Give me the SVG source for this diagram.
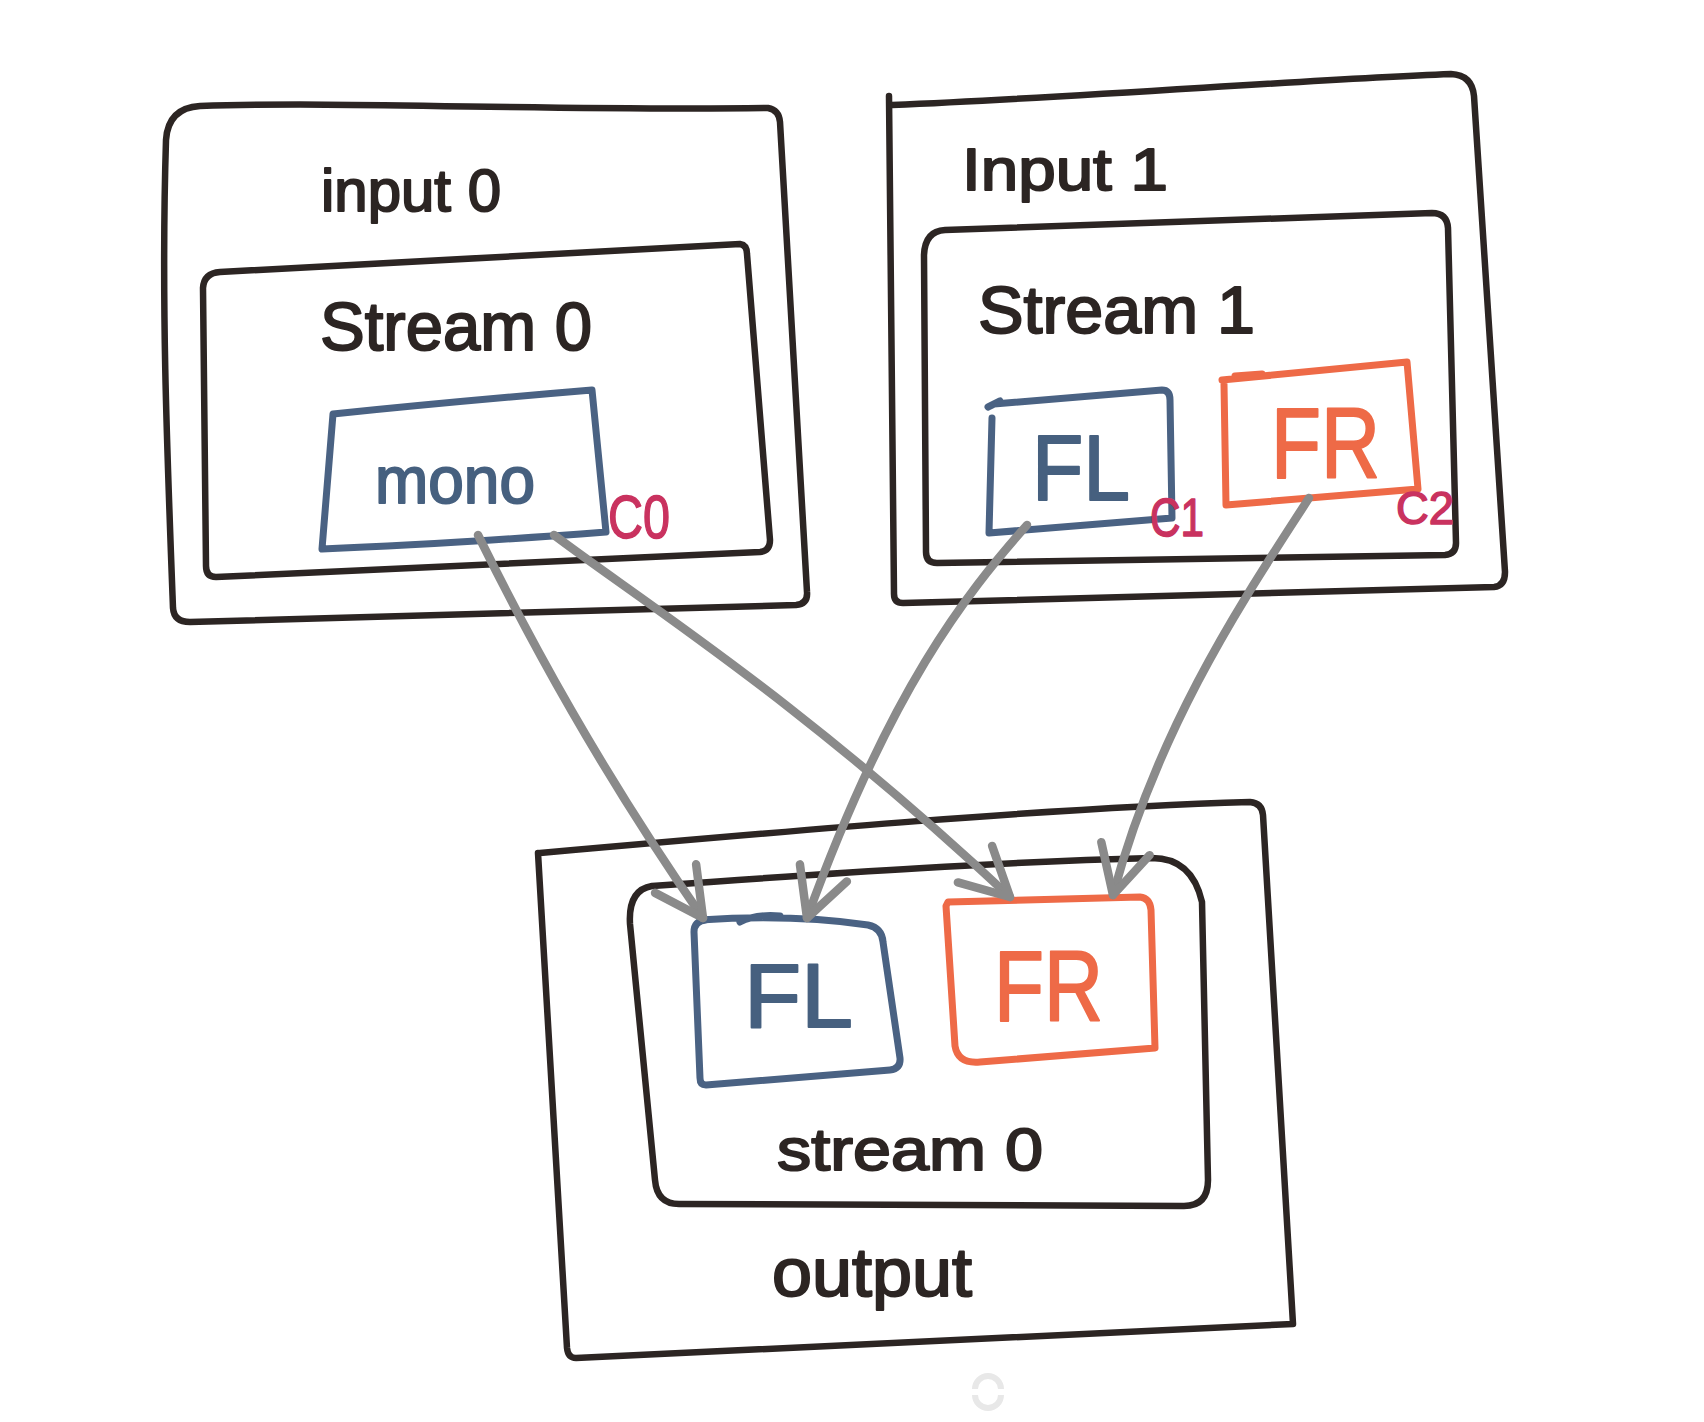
<svg xmlns="http://www.w3.org/2000/svg" width="1704" height="1422" viewBox="0 0 1704 1422">
  <style>
    .frame { fill: none; stroke: #2c2523; stroke-width: 6.5; stroke-linecap: round; stroke-linejoin: round; }
    .blue { fill: none; stroke: #4a6283; stroke-width: 7; stroke-linecap: round; stroke-linejoin: round; }
    .orange { fill: none; stroke: #ee6a47; stroke-width: 7; stroke-linecap: round; stroke-linejoin: round; }
    .conn { fill: none; stroke: #8a8a8a; stroke-width: 8.5; stroke-linecap: round; marker-end: url(#ah); }
    .t { font-family: "Liberation Sans", Arial, sans-serif; fill: #2c2523; stroke: #2c2523; stroke-width: 2; stroke-linejoin: round; }
    .tb { font-family: "Liberation Sans", Arial, sans-serif; fill: #46607f; stroke: #46607f; stroke-width: 2; stroke-linejoin: round; }
    .to { font-family: "Liberation Sans", Arial, sans-serif; fill: #ee6a47; stroke: #ee6a47; stroke-width: 2; stroke-linejoin: round; }
    .tp { font-family: "Liberation Sans", Arial, sans-serif; fill: #c9325f; stroke: #c9325f; stroke-width: 1.5; stroke-linejoin: round; }
  </style>
  <defs>
    <marker id="ah" viewBox="-60 -40 80 80" markerWidth="80" markerHeight="80" refX="0" refY="0" orient="auto" markerUnits="userSpaceOnUse">
      <path d="M -48,-25 L 0,0 L -48,25" fill="none" stroke="#8a8a8a" stroke-width="8.5" stroke-linecap="round" stroke-linejoin="round"/>
    </marker>
  </defs>
  <rect width="1704" height="1422" fill="#ffffff"/>

  <g id="input0">
    <path class="frame" d="M 200,106 C 350,101 550,111 768,108 Q 779,110 780,122 L 807,592 Q 808,604 796,605 L 190,622 Q 174,622 173,608 C 167,450 161,300 166,140 Q 168,108 200,106 Z"/>
    <text class="t" x="321" y="211" font-size="60" textLength="180" lengthAdjust="spacingAndGlyphs">input 0</text>
  </g>
  <g id="stream0-in">
    <path class="frame" d="M 220,272 L 740,244 Q 747,245 747,254 L 770,540 Q 770,551 760,552 L 216,577 Q 206,577 206,566 L 203,288 Q 204,273 220,272 Z"/>
    <text class="t" x="320" y="350" font-size="68" textLength="272" lengthAdjust="spacingAndGlyphs">Stream 0</text>
  </g>
  <g id="mono">
    <path class="blue" d="M 333,414 C 420,405 520,396 592,390 L 606,532 C 500,540 400,546 322,549 Z"/>
    <text class="tb" x="375" y="503" font-size="66" textLength="160" lengthAdjust="spacingAndGlyphs">mono</text>
    <text class="tp" x="608" y="538" font-size="62" textLength="62" lengthAdjust="spacingAndGlyphs">C0</text>
  </g>

  <g id="input1">
    <path class="frame" d="M 892,105 C 1100,96 1300,80 1451,74 Q 1472,75 1474,96 L 1505,572 Q 1505,586 1494,587 L 903,603 Q 894,603 894,594 L 889,96"/>
    <text class="t" x="962" y="190" font-size="60" textLength="206" lengthAdjust="spacingAndGlyphs">Input 1</text>
  </g>
  <g id="stream1">
    <path class="frame" d="M 945,230 L 1432,213 Q 1447,213 1448,228 L 1456,543 Q 1456,554 1445,555 L 937,563 Q 926,563 926,552 L 924,255 Q 925,231 945,230 Z"/>
    <text class="t" x="978" y="333" font-size="66" textLength="277" lengthAdjust="spacingAndGlyphs">Stream 1</text>
  </g>
  <g id="fl-in">
    <path class="blue" d="M 994,404 L 1162,390 Q 1170,390 1170,400 L 1172,518 L 989,533 L 992,418 M 988,407 L 1000,401"/>
    <text class="tb" x="1032" y="500" font-size="92" textLength="98" lengthAdjust="spacingAndGlyphs">FL</text>
    <text class="tp" x="1150" y="536" font-size="54" textLength="54" lengthAdjust="spacingAndGlyphs">C1</text>
  </g>
  <g id="fr-in">
    <path class="orange" d="M 1222,380 L 1407,362 L 1418,489 L 1226,505 L 1224,384 M 1235,376 L 1262,374"/>
    <text class="to" x="1271" y="478" font-size="100" textLength="109" lengthAdjust="spacingAndGlyphs">FR</text>
    <text class="tp" x="1396" y="524" font-size="46" textLength="58" lengthAdjust="spacingAndGlyphs">C2</text>
  </g>

  <g id="output">
    <path class="frame" d="M 540,853 C 800,830 1050,808 1250,802 Q 1262,803 1263,815 L 1293,1324 L 576,1358 Q 568,1358 567,1348 L 538,853"/>
    <text class="t" x="772" y="1296" font-size="68" textLength="200" lengthAdjust="spacingAndGlyphs">output</text>
  </g>
  <g id="stream0-out">
    <path class="frame" d="M 652,886 C 850,872 1000,862 1152,858 Q 1192,858 1202,902 L 1208,1180 Q 1208,1206 1184,1206 L 679,1204 Q 657,1204 655,1180 L 630,924 Q 628,890 652,886 Z"/>
    <text class="t" x="777" y="1170" font-size="60" textLength="266" lengthAdjust="spacingAndGlyphs">stream 0</text>
  </g>
  <g id="fl-out">
    <path class="blue" d="M 700,920 C 760,916 820,918 868,925 Q 882,928 883,942 L 900,1058 Q 901,1069 890,1070 L 706,1085 Q 700,1085 700,1078 L 694,932 Q 694,921 706,920 M 740,922 Q 755,914 780,916"/>
    <text class="tb" x="744" y="1027" font-size="90" textLength="109" lengthAdjust="spacingAndGlyphs">FL</text>
  </g>
  <g id="fr-out">
    <path class="orange" d="M 948,902 L 1140,897 Q 1150,898 1151,910 L 1155,1048 L 980,1062 Q 958,1064 955,1046 L 946,906 Z"/>
    <text class="to" x="994" y="1021" font-size="100" textLength="109" lengthAdjust="spacingAndGlyphs">FR</text>
  </g>

  <g id="connectors">
    <path class="conn" d="M 478,535 C 530,640 600,770 703,918"/>
    <path class="conn" d="M 554,535 C 640,600 800,700 1010,897"/>
    <path class="conn" d="M 1027,525 C 965,595 890,690 807,918"/>
    <path class="conn" d="M 1309,498 C 1250,590 1160,720 1113,895"/>
  </g>

  <g id="spinner" fill="none" stroke="#e8e8e8" stroke-width="6">
    <path d="M 975,1389 A 13,13 0 0 1 1001,1389"/>
    <path d="M 975,1395 A 13,13 0 0 0 1001,1395"/>
  </g>
</svg>
